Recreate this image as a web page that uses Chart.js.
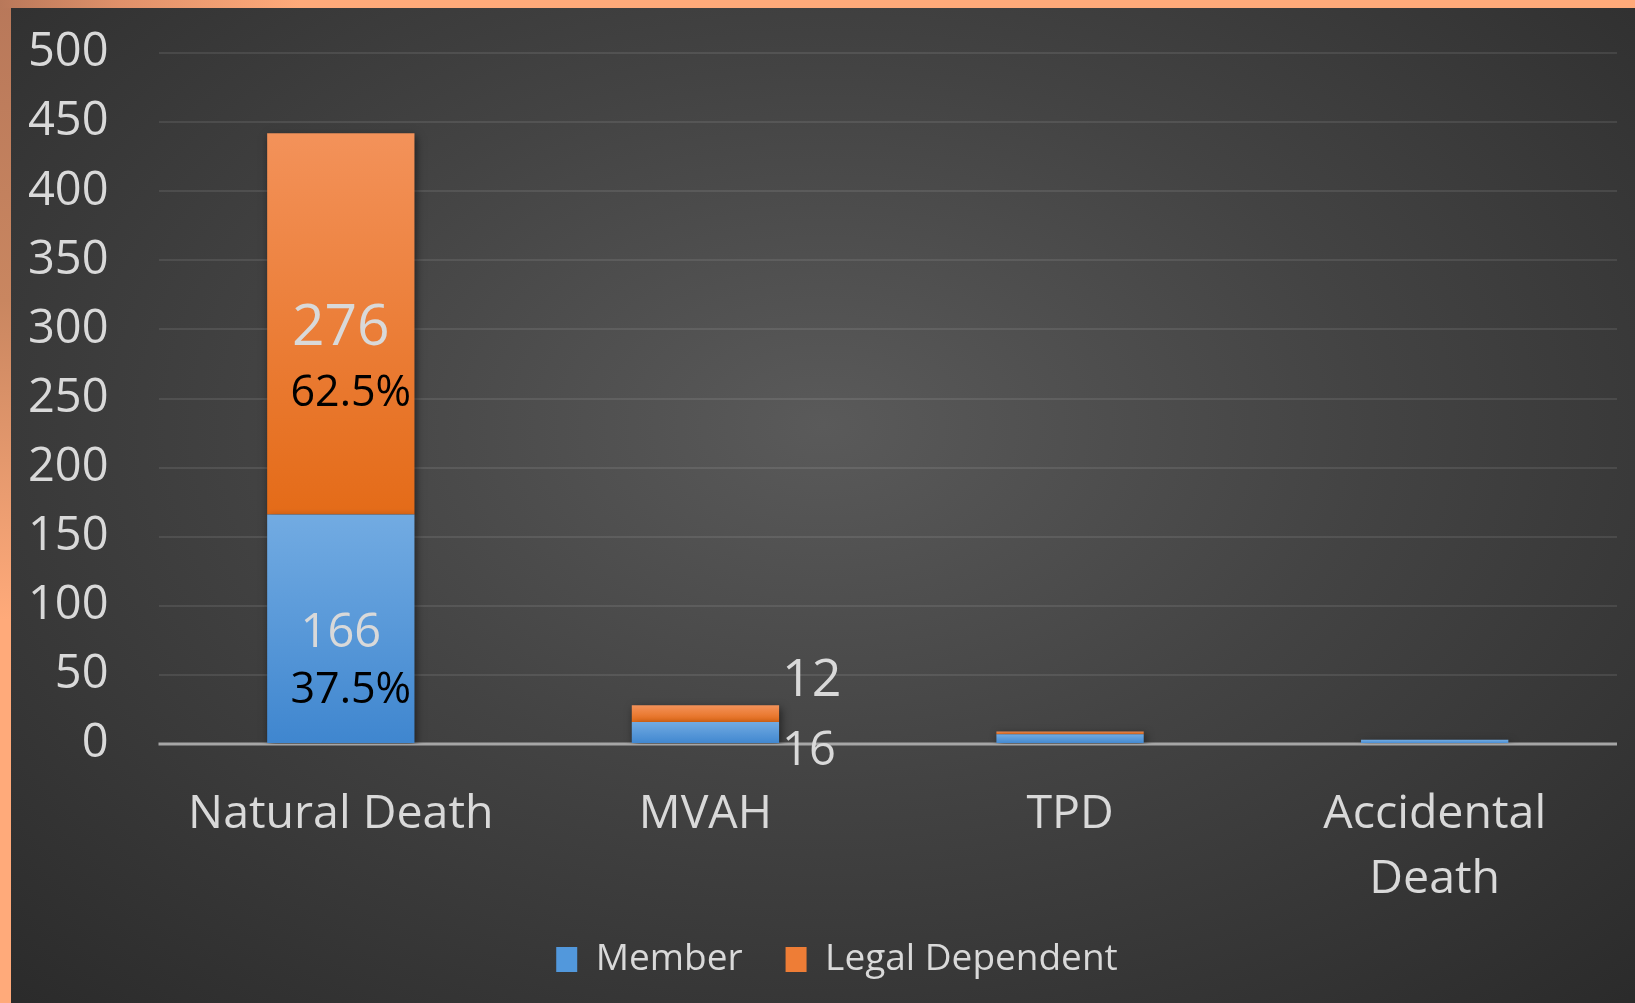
<!DOCTYPE html>
<html>
<head>
<meta charset="utf-8">
<script src="https://cdn.jsdelivr.net/npm/chart.js@4/dist/chart.umd.min.js"></script>
<style>
  html, body { margin: 0; padding: 0; }
  body {
    width: 1635px; height: 1003px; overflow: hidden;
    background: linear-gradient(to bottom, #b8785a 0px, #c98660 300px, #ffaa7a 620px, #ffaa7a 1003px);
    position: relative;
  }
  #topband { position: absolute; left: 0; top: 0; width: 1635px; height: 8px;
    background: linear-gradient(to right, #b8785a 0px, #e0916a 120px, #ffaa7a 300px, #ffaa7a 1635px); }
  #wrap {
    position: absolute; left: 11px; top: 8px; width: 1624px; height: 995px;
    background: radial-gradient(ellipse 75% 80% at 50% 42%, #5a5a5a 0%, #434343 45%, #2a2a2a 100%);
  }
</style>
</head>
<body>
<div id="topband"></div>
<div id="wrap"><canvas id="c" width="1624" height="995"></canvas></div>
<script>
const categories = ['Natural Death', 'MVAH', 'TPD', ['Accidental', 'Death']];
const memberValues = [166, 16, 7, 3];
const legalDependentValues = [276, 12, 2, 0];
const memberPercentLabels = ['37.5%', '', '', ''];
const legalPercentLabels = ['62.5%', '', '', ''];
const labelPlacement = ['inside', 'outside', 'none', 'none'];
const yTicks = [0, 50, 100, 150, 200, 250, 300, 350, 400, 450, 500];

const FONT = '"Open Sans", "Noto Sans", sans-serif';
const TEXT = '#d9d9d9';

function segGradient(ctx, colTop, colBottom) {
  const chart = ctx.chart;
  if (ctx.type !== 'data' || !chart.chartArea || !chart.scales.y) return colBottom;
  const ys = chart.scales.y;
  let start = 0;
  for (let d = 0; d < ctx.datasetIndex; d++) start += chart.data.datasets[d].data[ctx.dataIndex] || 0;
  const v = chart.data.datasets[ctx.datasetIndex].data[ctx.dataIndex] || 0;
  const yTop = ys.getPixelForValue(start + v);
  const yBot = ys.getPixelForValue(start);
  if (!isFinite(yTop) || !isFinite(yBot) || Math.abs(yBot - yTop) < 1) return colBottom;
  const g = chart.ctx.createLinearGradient(0, yTop, 0, yBot);
  g.addColorStop(0, colTop);
  g.addColorStop(1, colBottom);
  return g;
}

const shadowPlugin = {
  id: 'barShadow',
  beforeDatasetsDraw(chart) {
    const c = chart.ctx;
    c.save();
    c.shadowColor = 'rgba(0,0,0,0.55)';
    c.shadowBlur = 8;
    c.shadowOffsetX = 2;
    c.shadowOffsetY = 3;
  },
  afterDatasetsDraw(chart) {
    chart.ctx.restore();
  }
};

const zeroLinePlugin = {
  id: 'zeroLine',
  beforeDatasetsDraw(chart) {
    const c = chart.ctx, a = chart.chartArea, y = chart.scales.y.getPixelForValue(0);
    c.save();
    c.strokeStyle = '#a6a6a6';
    c.lineWidth = 3;
    c.beginPath(); c.moveTo(a.left, y); c.lineTo(a.right, y); c.stroke();
    c.restore();
  }
};

const legendShiftPlugin = {
  id: 'legendShift',
  beforeDraw(chart) {
    if (chart.legend) {
      chart.legend.left += 18;
      chart.legend.right += 18;
    }
  }
};

const labelPlugin = {
  id: 'valueLabels',
  afterDatasetsDraw(chart) {
    const c = chart.ctx;
    const pcts = [memberPercentLabels, legalPercentLabels];
    c.save();
    c.textAlign = 'center';
    c.textBaseline = 'middle';
    chart.data.datasets.forEach((ds, di) => {
      const meta = chart.getDatasetMeta(di);
      meta.data.forEach((el, i) => {
        const mode = labelPlacement[i];
        if (mode === 'none') return;
        const v = ds.data[i];
        const mid = (el.y + el.base) / 2;
        if (mode === 'inside') {
          c.fillStyle = TEXT;
          c.font = (di === 1 ? 57 : 47) + 'px ' + FONT;
          c.fillText(String(v), el.x, mid + 5);
          if (pcts[di][i]) {
            c.fillStyle = '#000000';
            c.font = '43px ' + FONT;
            c.fillText(pcts[di][i], el.x + 10, mid + (di === 1 ? 70 : 62));
          }
        } else {
          c.fillStyle = TEXT;
          c.textAlign = 'left';
          c.font = (di === 1 ? 52 : 47) + 'px ' + FONT;
          const right = el.x + el.width / 2;
          c.fillText(String(v), right + 3, mid + (di === 1 ? -32 : 19));
          c.textAlign = 'center';
        }
      });
    });
    c.restore();
  }
};

new Chart(document.getElementById('c'), {
  type: 'bar',
  data: {
    labels: categories,
    datasets: [
      {
        label: 'Member',
        data: memberValues,
        backgroundColor: ctx => segGradient(ctx, '#72abe2', '#3f86cf'),
        borderWidth: 0
      },
      {
        label: 'Legal Dependent',
        data: legalDependentValues,
        backgroundColor: ctx => segGradient(ctx, '#f3925a', '#e46b18'),
        borderWidth: 0
      }
    ]
  },
  options: {
    responsive: false,
    animation: false,
    devicePixelRatio: 1,
    layout: { padding: { left: 10, right: 18, top: 45, bottom: 15 } },
    datasets: { bar: { categoryPercentage: 1.0, barPercentage: 0.404 } },
    scales: {
      x: {
        stacked: true,
        grid: { display: false, drawTicks: false },
        border: { display: false },
        ticks: {
          color: TEXT,
          font: { family: FONT, size: 46.5, lineHeight: 1.4 },
          padding: 38,
          maxRotation: 0,
          autoSkip: false
        },
        afterFit(scale) { scale.height = 154; }
      },
      y: {
        stacked: true,
        min: 0,
        max: 500,
        afterBuildTicks(scale) { scale.ticks = yTicks.map(v => ({ value: v })); },
        grid: { color: 'rgba(255,255,255,0.09)', lineWidth: 2, drawTicks: false },
        border: { display: false },
        ticks: {
          color: TEXT,
          font: { family: FONT, size: 47 },
          padding: 50
        },
        afterFit(scale) {
          scale.width = 137.5;
          scale.paddingTop = 0;
          scale.paddingBottom = 0;
        }
      }
    },
    plugins: {
      legend: {
        position: 'bottom',
        labels: {
          color: TEXT,
          font: { family: FONT, size: 37 },
          boxWidth: 21,
          boxHeight: 25,
          padding: 43,
          generateLabels(chart) {
            const cols = ['#5298dc', '#ee7d36'];
            return chart.data.datasets.map((ds, i) => ({
              text: ds.label,
              fillStyle: cols[i],
              strokeStyle: cols[i],
              lineWidth: 0,
              fontColor: TEXT,
              datasetIndex: i,
              hidden: false
            }));
          }
        }
      },
      tooltip: { enabled: false }
    }
  },
  plugins: [zeroLinePlugin, shadowPlugin, labelPlugin, legendShiftPlugin]
});
</script>
</body>
</html>
